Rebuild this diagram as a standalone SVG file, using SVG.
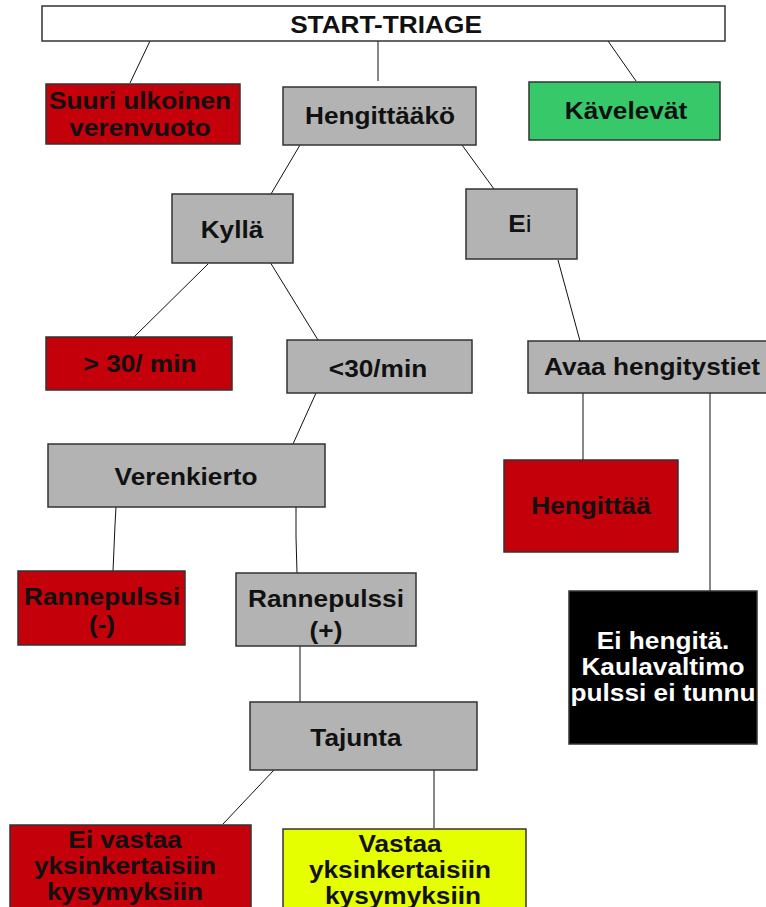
<svg xmlns="http://www.w3.org/2000/svg" width="766" height="907" viewBox="0 0 766 907">
<style>
.b{stroke:#333;stroke-width:1.5}
.w{fill:#fff}.r{fill:#c4000a}.g{fill:#b3b3b3}.gr{fill:#37c86a}.y{fill:#e6ff00}.k{fill:#000}
text{font-family:"Liberation Sans",Arial,sans-serif;font-weight:bold;font-size:23px;text-anchor:middle;fill:#111}
.wt{fill:#fff}
#connectors line,#connectors polyline{stroke:#111;stroke-width:1;fill:none}
</style>
<rect width="766" height="907" fill="#fff"/>
<g id="connectors">
<line x1="150" y1="41" x2="130" y2="83"/>
<line x1="378" y1="41" x2="378" y2="81"/>
<line x1="608" y1="41" x2="636" y2="81"/>
<line x1="300" y1="145" x2="271" y2="194"/>
<line x1="462" y1="145" x2="494" y2="189"/>
<line x1="208" y1="264" x2="134" y2="337"/>
<line x1="270" y1="262" x2="318" y2="340"/>
<line x1="558" y1="260" x2="580" y2="341"/>
<line x1="316" y1="393" x2="293" y2="444"/>
<line x1="583" y1="393" x2="583" y2="460"/>
<line x1="710" y1="393" x2="710" y2="591"/>
<polyline points="116,507 115,525 113,571"/>
<polyline points="296,507 296,537 297,573"/>
<line x1="300" y1="646" x2="300" y2="702"/>
<line x1="274" y1="770" x2="223" y2="824"/>
<line x1="434" y1="770" x2="434" y2="828"/>
</g>
<g id="start"><rect class="b w" x="42" y="6" width="683" height="35"/><text transform="translate(386,33) scale(1.14,1)" font-size="22">START-TRIAGE</text></g>
<g id="suuri"><rect class="b r" x="46" y="84" width="194" height="60"/><text transform="translate(140,109) scale(1.14,1)">Suuri ulkoinen</text><text transform="translate(140,136) scale(1.14,1)">verenvuoto</text></g>
<g id="hengittaako"><rect class="b g" x="283" y="87" width="193" height="58"/><text transform="translate(380,124) scale(1.14,1)">Hengittääkö</text></g>
<g id="kavelevat"><rect class="b gr" x="529" y="82" width="191" height="58"/><text transform="translate(626,119) scale(1.14,1)">Kävelevät</text></g>
<g id="kylla"><rect class="b g" x="172" y="194" width="121" height="69"/><text transform="translate(232,238) scale(1.14,1)">Kyllä</text></g>
<g id="ei"><rect class="b g" x="466" y="189" width="111" height="70"/><text transform="translate(520,232) scale(1.14,1)">E<tspan font-weight="normal">i</tspan></text></g>
<g id="yli30"><rect class="b r" x="46" y="337" width="186" height="53"/><text transform="translate(140,372) scale(1.14,1)">&gt; 30/ min</text></g>
<g id="alle30"><rect class="b g" x="287" y="340" width="185" height="53"/><text transform="translate(378,377) scale(1.14,1)">&lt;30/min</text></g>
<g id="avaa"><rect class="b g" x="528" y="341" width="240" height="52"/><text transform="translate(652,375) scale(1.14,1)">Avaa hengitystiet</text></g>
<g id="verenkierto"><rect class="b g" x="48" y="444" width="277" height="63"/><text transform="translate(186,485) scale(1.14,1)">Verenkierto</text></g>
<g id="hengittaa"><rect class="b r" x="504" y="460" width="174" height="92"/><text transform="translate(591,514) scale(1.14,1)">Hengittää</text></g>
<g id="ranne-"><rect class="b r" x="18" y="571" width="167" height="74"/><text transform="translate(102,605) scale(1.14,1)">Rannepulssi</text><text transform="translate(102,633) scale(1.14,1)">(-)</text></g>
<g id="ranne+"><rect class="b g" x="236" y="573" width="180" height="73"/><text transform="translate(326,607) scale(1.14,1)">Rannepulssi</text><text transform="translate(326,639) scale(1.14,1)">(+)</text></g>
<g id="eihengita"><rect class="b k" x="569" y="591" width="188" height="153"/><text class="wt" transform="translate(663,649) scale(1.14,1)">Ei hengitä.</text><text class="wt" transform="translate(663,675) scale(1.14,1)">Kaulavaltimo</text><text class="wt" transform="translate(663,701) scale(1.14,1)">pulssi ei tunnu</text></g>
<g id="tajunta"><rect class="b g" x="250" y="702" width="227" height="68"/><text transform="translate(356,746) scale(1.14,1)">Tajunta</text></g>
<g id="eivastaa"><rect class="b r" x="10" y="825" width="241" height="85"/><text transform="translate(125,848) scale(1.14,1)">Ei vastaa</text><text transform="translate(125,874) scale(1.14,1)">yksinkertaisiin</text><text transform="translate(125,900) scale(1.14,1)">kysymyksiin</text></g>
<g id="vastaa"><rect class="b y" x="283" y="829" width="243" height="81"/><text transform="translate(400,852) scale(1.14,1)">Vastaa</text><text transform="translate(400,878) scale(1.14,1)">yksinkertaisiin</text><text transform="translate(403,904) scale(1.14,1)">kysymyksiin</text></g>
</svg>
